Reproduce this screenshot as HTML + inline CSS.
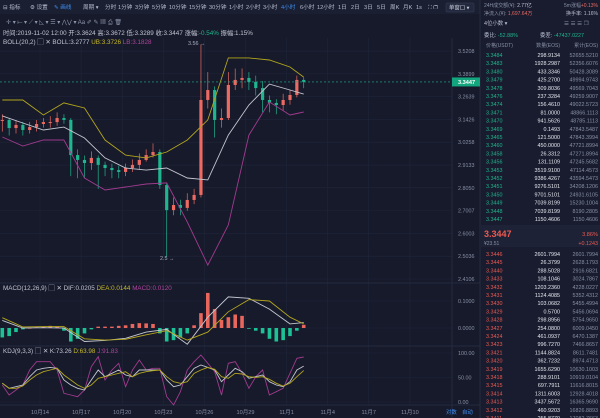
<!DOCTYPE html>
<html><head><meta charset="utf-8"><style>
html,body{margin:0;padding:0;background:#161a2a;width:600px;height:418px;overflow:hidden}
svg{display:block;font-family:"Liberation Sans","Noto Sans CJK SC",sans-serif}
</style></head><body>
<svg id="s" width="600" height="418" viewBox="0 0 600 418" xmlns="http://www.w3.org/2000/svg">
<rect x="0" y="0" width="600" height="418" fill="#161a2a"/>
<rect x="0" y="0" width="480" height="14" fill="#1a1f31"/>
<rect x="480" y="0" width="120" height="418" fill="#181c2e"/>
<line x1="480" y1="0" x2="480" y2="418" stroke="#262b40"/>
<g id="grid"></g>
<g id="chart"></g>
<g id="ui" font-size="5.6" fill="#aab0c4"></g>
</svg>
<script>
// ===== data =====
const closes=[3.140,3.098,3.114,3.088,3.103,3.119,3.129,3.129,3.150,3.140,2.962,2.938,2.923,2.948,2.914,2.899,2.889,2.880,2.899,2.914,2.938,2.962,2.977,2.818,2.703,2.726,2.713,2.749,2.772,3.246,3.300,3.140,3.150,3.328,3.356,3.367,3.345,3.311,3.246,3.230,3.219,3.246,3.273,3.356,3.345];
const highs=[3.17,3.15,3.14,3.13,3.13,3.14,3.15,3.16,3.18,3.17,3.15,2.99,2.96,2.98,2.96,2.93,2.92,2.91,2.92,2.94,2.97,2.99,3.02,2.99,2.83,2.76,2.75,2.78,2.80,3.56,3.40,3.32,3.20,3.40,3.42,3.42,3.40,3.38,3.35,3.27,3.25,3.28,3.30,3.38,3.37];
const lows=[3.08,3.06,3.07,3.06,3.07,3.08,3.10,3.10,3.11,3.12,2.86,2.85,2.85,2.89,2.80,2.86,2.85,2.85,2.86,2.88,2.89,2.93,2.95,2.80,2.50,2.68,2.68,2.70,2.73,2.76,3.20,3.05,3.10,3.14,3.30,3.31,3.30,3.27,3.18,3.18,3.17,3.19,3.22,3.26,3.31];
const sparseIdx=[0,3,6,9,12,15,18,21,24,27,30,33,36,39,42,44];
const bollUpper=[3.246,3.246,3.166,3.230,3.203,3.037,2.962,2.948,2.977,3.037,3.140,3.481,3.481,3.469,3.429,3.372];
const bollMid=[3.161,3.124,3.088,3.103,3.047,2.948,2.899,2.889,2.899,2.851,2.842,3.062,3.219,3.333,3.300,3.278];
const bollLower=[3.052,3.007,3.037,3.037,2.851,2.795,2.809,2.823,2.828,2.650,2.467,2.637,3.062,3.235,3.166,3.182];
const macdHist=[-0.035,-0.03,-0.015,-0.005,0.0,0.003,0.005,0.008,0.006,-0.01,-0.05,-0.04,-0.02,-0.005,0.005,0.005,0.005,0.008,0.01,0.015,0.018,0.017,0.015,-0.02,-0.05,-0.045,-0.035,-0.02,0.01,0.055,0.13,0.07,0.03,0.04,0.05,0.045,-0.003,-0.01,-0.02,-0.04,-0.05,-0.045,-0.03,-0.01,0.012];
const dif=[0.028,0.0,0.001,0.0,-0.05,-0.046,-0.038,-0.015,-0.005,-0.06,0.04,0.115,0.11,0.07,0.015,0.02];
const dea=[0.038,0.004,0.005,0.005,-0.04,-0.045,-0.042,-0.025,-0.01,-0.045,-0.015,0.06,0.105,0.1,0.04,0.015];
const kdjK=[38.1,27.9,31.3,34.7,51.7,65.3,68.7,70.7,68.7,44.9,34.7,27.9,24.5,44.9,65.3,51.7,58.5,65.3,55.1,51.7,65.3,65.3,65.3,65.3,44.9,31.3,34.7,51.7,68.7,75.5,70.7,65.3,41.5,55.1,68.7,61.9,48.3,51.7,55.1,41.5,34.7,31.3,41.5,65.3,73.3];
const kdjD=[38.1,27.9,27.9,32.7,44.9,55.1,61.9,65.3,68.7,55.1,44.9,34.7,27.9,34.7,48.3,51.7,55.1,58.5,61.9,51.7,58.5,61.9,63.9,65.3,51.7,41.5,38.1,41.5,58.5,65.3,70.7,66.7,51.7,48.3,58.5,57.1,51.7,50.3,51.7,46.3,38.1,32.7,38.1,51.7,64.0];
const kdjJ=[34.7,14.3,24.5,34.7,65.3,82.3,82.3,82.3,65.3,17.7,14.3,10.9,24.5,72.1,92.5,44.9,65.3,78.9,31.3,65.3,85.7,65.3,68.7,68.7,10.9,-6.1,21.1,65.3,82.3,95.9,78.9,61.9,14.3,78.9,82.3,58.5,27.9,51.7,65.3,14.3,21.1,27.9,58.5,89.1,91.8];
const priceTicks=["3.5208","3.3899","3.2639","3.1426","3.0258","2.9133","2.8050","2.7007","2.6003","2.5036","2.4106"];
const macdTicks=["0.1000","0.0000"];
const kdjTicks=["100.00","50.00","0.00"];
const dateLabels=["10月14","10月17","10月20","10月23","10月26","10月29","11月1","11月4","11月7","11月10"];
const lastPrice=3.3447;

// ===== axes =====
const NS="http://www.w3.org/2000/svg";
const xOf=i=>2.3+6.85*i;
const dateX=k=>40+k*41.1;
const LN0=Math.log(2.4106),LS=0.001662;
const yP=p=>279-(Math.log(p)-LN0)/LS;
const yM=v=>328-v*270;
const yK=v=>402-v*0.49;
function mk(tag,attrs,parent){const e=document.createElementNS(NS,tag);for(const k in attrs)e.setAttribute(k,attrs[k]);parent.appendChild(e);return e;}
const G=document.getElementById('grid'),C=document.getElementById('chart'),U=document.getElementById('ui');

dateLabels.forEach((d,k)=>{const x=dateX(k);
 mk('line',{x1:x,y1:38,x2:x,y2:405,stroke:'#20253a','stroke-width':0.6},G);
 const t=mk('text',{x:x,y:414,'text-anchor':'middle','font-size':5.6,fill:'#8a90a6'},U);t.textContent=d;
 
 
});
priceTicks.forEach(v=>{const y=yP(+v);
 mk('line',{x1:0,y1:y,x2:452,y2:y,stroke:'#20253a','stroke-width':0.6},G);
 const t=mk('text',{x:458,y:y+2,'font-size':5.4,fill:'#8a90a6'},U);t.textContent=v;
 
 
});
macdTicks.forEach(v=>{const y=yM(+v);
 mk('line',{x1:0,y1:y,x2:452,y2:y,stroke:'#20253a','stroke-width':0.6},G);
 const t=mk('text',{x:458,y:y+2,'font-size':5.4,fill:'#8a90a6'},U);t.textContent=v;
 
 
});
kdjTicks.forEach(v=>{const y=yK(+v);
 mk('line',{x1:0,y1:y,x2:452,y2:y,stroke:'#20253a','stroke-width':0.6},G);
 const t=mk('text',{x:458,y:y+2,'font-size':5.4,fill:'#8a90a6'},U);t.textContent=v;
 
 
});
[283,346,405].forEach(y=>mk('line',{x1:0,y1:y,x2:480,y2:y,stroke:'#2a2f45','stroke-width':0.8},G));
mk('line',{x1:452,y1:38,x2:452,y2:418,stroke:'#2a2f45','stroke-width':0.8},G);

closes.forEach((c,i)=>{const o=i?closes[i-1]:c;const up=c>=o;const col=up?'#ec6a62':'#1fb58e';const x=xOf(i);
 const w=mk('line',{x1:x,y1:yP(highs[i]),x2:x,y2:yP(lows[i]),stroke:col,'stroke-width':0.7},C);
 
 
 const y1=Math.min(yP(o),yP(c)),h=Math.max(1,Math.abs(yP(o)-yP(c)));
 const r=mk('rect',{x:x-1.6,y:y1,width:3.2,height:h,fill:col},C);
 
 
});
function line(xs,vals,yf,col,name){const d=vals.map((v,j)=>(j?'L':'M')+xs(j).toFixed(1)+','+yf(v).toFixed(1)).join('');
 const p=mk('path',{d:d,fill:'none',stroke:col,'stroke-width':0.9},C);
 
 }
const sx=j=>xOf(sparseIdx[j]);
line(sx,bollUpper,yP,'#b3a51e','boll-upper');
line(sx,bollMid,yP,'#c4c6d0','boll-mid');
line(sx,bollLower,yP,'#a03b8e','boll-lower');
mk('line',{x1:0,y1:yP(lastPrice),x2:452,y2:yP(lastPrice),stroke:'#1fb58e','stroke-width':0.6,'stroke-dasharray':'2,2'},C);
const lb=mk('rect',{x:452,y:yP(lastPrice)-4.5,width:28,height:9,fill:'#13a57d'},C);


const lt=mk('text',{x:458,y:yP(lastPrice)+2,'font-size':5.6,fill:'#fff','font-weight':'bold'},U);lt.textContent=lastPrice.toFixed(4);
let t=mk('text',{x:188,y:45,'font-size':5.4,fill:'#aab0c4'},U);t.textContent='3.56 →';
t=mk('text',{x:160,y:260,'font-size':5.4,fill:'#aab0c4'},U);t.textContent='2.5 →';
macdHist.forEach((v,i)=>{const x=xOf(i);const y0=yM(0),y=yM(v);
 const r=mk('rect',{x:x-1.8,y:Math.min(y0,y),width:3.6,height:Math.max(0.6,Math.abs(y-y0)),fill:v>=0?'#e9665d':'#1cc295'},C);
 
 
});
line(sx,dif,yM,'#c4c6d0','macd-dif');
line(sx,dea,yM,'#b3a51e','macd-dea');
line(xOf,kdjJ,yK,'#a03b8e','kdj-j');
line(xOf,kdjK,yK,'#c4c6d0','kdj-k');
line(xOf,kdjD,yK,'#b3a51e','kdj-d');

function txt(x,y,s,col,size,name,anchor,weight){const e=mk('text',{x:x,y:y,fill:col||'#aab0c4','font-size':size||5.6},U);if(anchor)e.setAttribute('text-anchor',anchor);if(weight)e.setAttribute('font-weight',weight);e.textContent=s;
 
 return e;}
function multi(x,y,parts,size,name){const e=mk('text',{x:x,y:y,'font-size':size,'xml:space':'preserve'},U);
 
 
 parts.forEach(([s,c])=>{const sp=mk('tspan',{fill:c},e);sp.textContent=s;});return e;}
const tb=[['⊟ 指标',3],['⚙ 设置',30],['✎ 画线',54],['周期 ▾',83],['分时',105],['1分钟',118],['3分钟',135],['5分钟',152],['10分钟',169],['15分钟',189],['30分钟',209],['1小时',229],['2小时',246],['3小时',263],['4小时',281],['6小时',300],['12小时',317],['1日',338],['2日',351],['3日',364],['5日',377],['周K',390],['月K',403],['1s',416]];
tb.forEach(([s,x])=>{const e=txt(x,9,s,s==='4小时'||s==='✎ 画线'?'#3d8ef0':'#b8bdd0',5.6,'interval-button');
 });
txt(428,9,'⛶ ❐','#b8bdd0',5.6,'fullscreen-icon');
const sw=mk('rect',{x:446,y:3,width:28,height:9,rx:1,fill:'#22283d',stroke:'#3a4058','stroke-width':0.5},U);


txt(449,9.5,'单窗口 ▾','#c8ccd8',5.4,'window-select-label');
txt(6,24,'✛ ▾   ⟝ ▾   ⟋ ▾   ◺ ▾   ☰ ▾   ⋀⋁ ▾   Aa   ✐   ✎   ▦   ⎙   🗑','#8f95ab',6,'drawing-tools');
const W='#c0c4d2',Y='#c9b92a',M='#b0459d',GR='#1fb58e';
multi(3,35,[['时间:2019-11-02 12:00  开:3.3624  高:3.3672  低:3.3289  收:3.3447  涨幅:',W],['-0.54%',GR],['  振幅:1.15%',W]],6.3,'ohlc-info');
multi(3,44,[['BOLL(20,2)   ▢ ✕    BOLL:3.2777   ',W],['UB:3.3726   ',Y],['LB:3.1828',M]],6.3,'boll-legend');
multi(3,290,[['MACD(12,26,9)  ▢ ✕   DIF:0.0205   ',W],['DEA:0.0144   ',Y],['MACD:0.0120',M]],6.3,'macd-legend');
multi(3,353,[['KDJ(9,3,3)  ▢ ✕   K:73.26   ',W],['D:63.98   ',Y],['J:91.83',M]],6.3,'kdj-legend');
txt(446,414,'对数','#3d8ef0',5.4,'log-toggle');
txt(462,414,'自动','#3d8ef0',5.4,'auto-toggle');

multi(484,7,[['24H成交额(¥): ','#8a90a6'],['2.77亿','#c0c4d2']],5,'volume-24h');
txt(564,7,'5m涨幅','#8a90a6',5,'change-5m-label');
txt(598,7,'+0.13%','#ec6a62',5,'change-5m','end');
multi(484,15,[['净流入(¥): ','#8a90a6'],['1,697.64万','#ec6a62']],5,'netflow');
txt(598,15,'换手率: 1.16%','#b8bdd0',5,'turnover','end');
txt(484,25,'4位小数 ▾','#b8bdd0',5.4,'decimals-select');
txt(564,25,'☰  ☰  ☰  ❐','#8a90a6',5.6,'book-view-icons');
multi(484,37,[['委比: ','#b8bdd0'],['-52.88%',GR]],5.4,'bid-ratio');
multi(540,37,[['委差: ','#b8bdd0'],['-47437.0227',GR]],5.4,'bid-diff');
txt(486,47,'价格(USDT)','#8a90a6',5,'col-price');
txt(560,47,'数量(EOS)','#8a90a6',5,'col-qty','end');
txt(598,47,'累计(EOS)','#8a90a6',5,'col-total','end');
const topRows=[["3.3484","298.9134","52655.5210"],["3.3483","1928.2987","52356.6076"],["3.3480","433.3346","50428.3089"],["3.3479","425.2700","49994.9743"],["3.3478","309.8036","49569.7043"],["3.3476","237.3284","49259.9007"],["3.3474","156.4610","49022.5723"],["3.3471","81.0000","48866.1113"],["3.3470","941.5626","48785.1113"],["3.3469","0.1493","47843.5487"],["3.3465","121.5000","47843.3994"],["3.3460","450.0000","47721.8994"],["3.3458","26.3312","47271.8994"],["3.3456","131.1109","47245.5682"],["3.3453","3519.9100","47114.4573"],["3.3452","9386.4267","43594.5473"],["3.3451","9276.5101","34208.1206"],["3.3450","9701.5101","24931.6105"],["3.3449","7039.8199","15230.1004"],["3.3448","7039.8199","8190.2805"],["3.3447","1150.4606","1150.4606"]];
topRows.forEach((r,k)=>{const y=57+k*8.2;
 txt(486,y,r[0],'#1fb58e',5.4,'book-price');txt(560,y,r[1],'#e4e6ee',5.4,'book-qty','end');txt(598,y,r[2],'#8a90a6',5.4,'book-total','end');});
mk('rect',{x:480,y:225,width:120,height:22,fill:'#1d2236'},U);
txt(484,237,'3.3447','#ec5a52',9,'current-price',null,'bold');
txt(598,236,'3.86%','#ec5a52',5.6,'current-change','end');
txt(484,245,'¥23.51','#8a90a6',5,'cny-price');
txt(598,245,'+0.1243','#ec5a52',5.4,'current-change-abs','end');
const botRows=[["3.3446","2601.7994","2601.7994"],["3.3445","26.3799","2628.1793"],["3.3440","288.5028","2916.6821"],["3.3433","108.1046","3024.7867"],["3.3432","1203.2360","4228.0227"],["3.3431","1124.4085","5352.4312"],["3.3430","103.0682","5455.4994"],["3.3429","0.5700","5456.0694"],["3.3428","298.8956","5754.9650"],["3.3427","254.0800","6009.0450"],["3.3424","461.0937","6470.1387"],["3.3423","996.7270","7466.8657"],["3.3421","1144.8824","8611.7481"],["3.3420","362.7232","8974.4713"],["3.3419","1655.6290","10630.1003"],["3.3418","288.9101","10919.0104"],["3.3415","697.7911","11616.8015"],["3.3414","1311.6003","12928.4018"],["3.3413","3437.5672","16365.9690"],["3.3412","460.9203","16826.8893"],["3.3411","255.8770","17082.7663"]];
botRows.forEach((r,k)=>{const y=256+k*8.2;
 txt(486,y,r[0],'#ec5a52',5.4,'book-price');txt(560,y,r[1],'#e4e6ee',5.4,'book-qty','end');txt(598,y,r[2],'#8a90a6',5.4,'book-total','end');});
</script>
</body></html>
